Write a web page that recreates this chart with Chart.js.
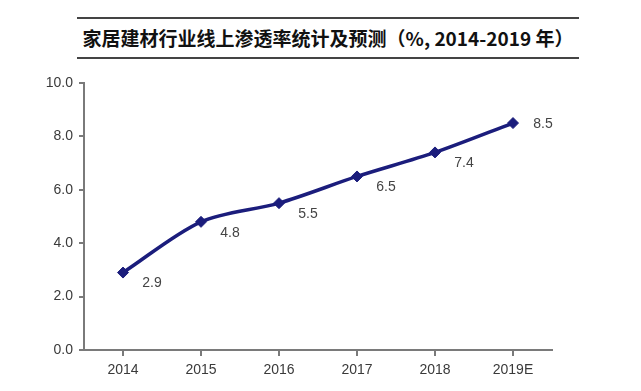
<!DOCTYPE html>
<html>
<head>
<meta charset="utf-8">
<script src="https://cdn.jsdelivr.net/npm/chart.js@4/dist/chart.umd.min.js"></script>
<style>
    body { margin: 0; background: #fff; }
    #wrap { position: relative; width: 641px; height: 391px; }
    #title {
        position: absolute; left: 77px; top: 17px; width: 502px; height: 38px;
        border-top: 2px solid #444; border-bottom: 2px solid #444;
        font: bold 19px "Noto Sans CJK SC", sans-serif; color: #111;
        text-align: center; line-height: 38px; white-space: nowrap;
    }
    canvas { position: absolute; left: 0; top: 0; }
</style>
</head>
<body>
<div id="wrap">
    <div id="title">家居建材行业线上渗透率统计及预测（%, 2014-2019 年）</div>
    <canvas id="myChart" width="641" height="391"></canvas>
</div>
<script>
"use strict";
const years = ['2014', '2015', '2016', '2017', '2018', '2019E'];
const penetration = [2.9, 4.8, 5.5, 6.5, 7.4, 8.5];
const yTicks = [0, 2, 4, 6, 8, 10];

// value labels sit below-right of each point, last one to the right
const valueLabels = {
    id: 'valueLabels',
    afterDatasetsDraw(chart) {
        const ctx = chart.ctx;
        const pts = chart.getDatasetMeta(0).data;
        ctx.save();
        ctx.font = '14px "Liberation Sans", Arial, sans-serif';
        ctx.fillStyle = '#444';
        ctx.textAlign = 'center';
        ctx.textBaseline = 'middle';
        pts.forEach((p, i) => {
            const last = i === pts.length - 1;
            ctx.fillText(penetration[i].toFixed(1), p.x + (last ? 30 : 29), p.y + (last ? 1 : 11));
        });
        ctx.restore();
    }
};

const axisColor = '#7a7a7a';
const tickFont = { family: '"Liberation Sans", Arial, sans-serif', size: 14 };

new Chart(document.getElementById('myChart'), {
    type: 'line',
    data: {
        labels: years,
        datasets: [{
            data: penetration,
            borderColor: '#1b1d7c',
            backgroundColor: '#1b1d7c',
            borderWidth: 3.5,
            tension: 0.3,
            pointStyle: 'rectRot',
            pointRadius: 5.5,
            pointBorderWidth: 1
        }]
    },
    options: {
        responsive: false,
        animation: false,
        layout: { padding: { left: 0, right: 89, top: 83, bottom: 0 } },
        plugins: { legend: { display: false }, title: { display: false }, tooltip: { enabled: false } },
        scales: {
            x: {
                offset: true,
                afterFit: s => { s.height = 41; },
                grid: { drawOnChartArea: false, drawTicks: true, tickLength: 6, color: axisColor, lineWidth: 2 },
                border: { color: axisColor, width: 2 },
                ticks: { color: '#3a3a3a', font: tickFont, padding: 6 }
            },
            y: {
                min: 0, max: 10,
                afterFit: s => { s.width = 84; },
                afterBuildTicks: s => { s.ticks = yTicks.map(v => ({ value: v })); },
                grid: { drawOnChartArea: false, drawTicks: true, tickLength: 5, color: axisColor, lineWidth: 2 },
                border: { color: axisColor, width: 2 },
                ticks: { color: '#3a3a3a', font: tickFont, padding: 6, callback: v => v.toFixed(1) }
            }
        }
    },
    plugins: [valueLabels]
});
</script>
</body>
</html>
